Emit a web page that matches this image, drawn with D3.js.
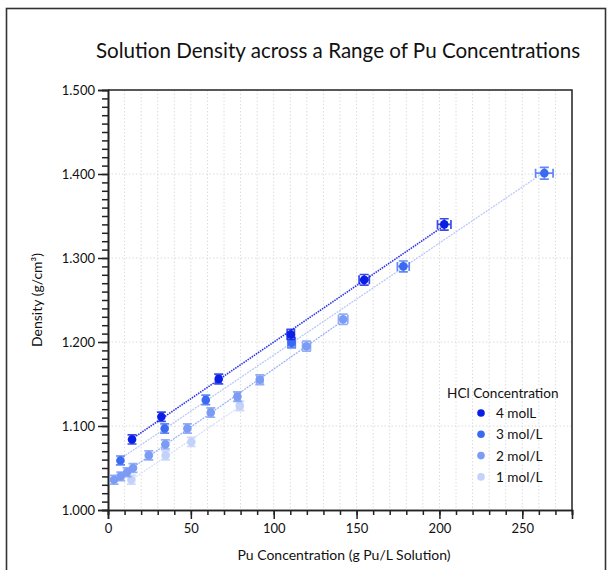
<!DOCTYPE html>
<html>
<head>
<meta charset="utf-8">
<script src="https://cdn.jsdelivr.net/npm/d3@7"></script>
<style>
  html, body { margin: 0; padding: 0; background: #fff; }
  svg text { font-family: "Lato", "Open Sans", sans-serif; fill: #111; }
</style>
</head>
<body>
<svg id="chart" width="611" height="570"></svg>
<script>
// Pu concentration (g Pu/L) and measured density (g/cm³) per HCl molarity
const conc4 = [14.5, 32.2, 66.8, 110.3, 154.6, 202.9];
const dens4 = [1.084, 1.111, 1.156, 1.209, 1.274, 1.340];

const conc3 = [7.5, 34.2, 59.0, 110.8, 178.2, 263.3];
const dens3 = [1.059, 1.097, 1.131, 1.199, 1.290, 1.401];

const conc2 = [3.6, 7.7, 11.5, 15.1, 24.6, 34.6, 47.9, 62.0, 78.1, 91.6, 119.8, 141.9];
const dens2 = [1.036, 1.040, 1.045, 1.050, 1.065, 1.078, 1.097, 1.116, 1.135, 1.155, 1.195, 1.227];

const conc1 = [14.1, 34.8, 50.3, 79.5];
const dens1 = [1.036, 1.065, 1.081, 1.124];

const seriesNames = ["4 molL", "3 mol/L", "2 mol/L", "1 mol/L"];
const seriesColors = ["#0a1ee6", "#3b6af2", "#7b9bf5", "#c3d2fb"];
const lineColors = ["#2a34e8", "#b4c6fb", "#96aef6", "#d4defc"];

const xTicks = [0, 50, 100, 150, 200, 250];
const yTicks = [1.0, 1.1, 1.2, 1.3, 1.4, 1.5];

// relative uncertainties used for the error bars
const xErrFrac = 0.02;
const yErrFrac = 0.005;

const series = [
  { name: seriesNames[0], xs: conc4, ys: dens4, color: seriesColors[0], line: lineColors[0] },
  { name: seriesNames[1], xs: conc3, ys: dens3, color: seriesColors[1], line: lineColors[1] },
  { name: seriesNames[2], xs: conc2, ys: dens2, color: seriesColors[2], line: lineColors[2] },
  { name: seriesNames[3], xs: conc1, ys: dens1, color: seriesColors[3], line: lineColors[3] }
];

const svg = d3.select("#chart");

// outer frame
svg.append("rect")
  .attr("x", 6.5).attr("y", 8.5).attr("width", 599).attr("height", 580)
  .attr("fill", "none").attr("stroke", "#333").attr("stroke-width", 1.6);

const plot = { left: 108, right: 572, top: 90, bottom: 510 };

const x = d3.scaleLinear().domain([0, 280]).range([plot.left, plot.right]);
const y = d3.scaleLinear().domain([1.0, 1.5]).range([plot.bottom, plot.top]);

// grid
const grid = svg.append("g");
grid.selectAll("line.vg")
  .data(d3.range(10, 280, 10))
  .join("line")
  .attr("x1", d => x(d)).attr("x2", d => x(d))
  .attr("y1", plot.top).attr("y2", plot.bottom)
  .attr("stroke", "#dcdcdc").attr("stroke-width", 1)
  .attr("stroke-dasharray", "1.5,2");
grid.selectAll("line.hg")
  .data([1.1, 1.2, 1.3, 1.4])
  .join("line")
  .attr("x1", plot.left).attr("x2", plot.right)
  .attr("y1", d => y(d)).attr("y2", d => y(d))
  .attr("stroke", "#dcdcdc").attr("stroke-width", 1)
  .attr("stroke-dasharray", "1.5,2");

// top and right border of the plot area
svg.append("path")
  .attr("d", `M${plot.left},${plot.top}H${plot.right}V${plot.bottom}`)
  .attr("fill", "none").attr("stroke", "#222").attr("stroke-width", 1.5);

// x axis: minor ticks every 10, labelled every 50
const xMinor = d3.axisBottom(x).tickValues(d3.range(0, 290, 10)).tickSize(5).tickFormat("");
const xMajor = d3.axisBottom(x).tickValues(xTicks).tickSize(9).tickPadding(5).tickFormat(d3.format("d"));
const gxm = svg.append("g").attr("transform", `translate(0,${plot.bottom})`).call(xMinor);
const gx = svg.append("g").attr("transform", `translate(0,${plot.bottom})`).call(xMajor);
[gxm, gx].forEach(g => {
  g.select(".domain").attr("stroke", "#222").attr("stroke-width", 1.6);
  g.selectAll(".tick line").attr("stroke", "#222").attr("stroke-width", 1.5);
});
gx.selectAll(".tick text").attr("font-size", 13).attr("font-family", "Lato, sans-serif").attr("fill", "#111");

// y axis: minor ticks every 0.01, labelled every 0.1
const yMinor = d3.axisLeft(y).tickValues(d3.range(0, 51).map(i => 1 + i * 0.01)).tickSize(6).tickFormat("");
const yMajor = d3.axisLeft(y).tickValues(yTicks).tickSize(10).tickPadding(3).tickFormat(d3.format(".3f"));
const gym = svg.append("g").attr("transform", `translate(${plot.left},0)`).call(yMinor);
const gy = svg.append("g").attr("transform", `translate(${plot.left},0)`).call(yMajor);
[gym, gy].forEach(g => {
  g.select(".domain").attr("stroke", "#222").attr("stroke-width", 1.6);
  g.selectAll(".tick line").attr("stroke", "#222").attr("stroke-width", 1.5);
});
gy.selectAll(".tick text").attr("font-size", 13).attr("font-family", "Lato, sans-serif").attr("fill", "#111");

// least-squares trend line per series, drawn over its data range
function fit(xs, ys) {
  const mx = d3.mean(xs), my = d3.mean(ys);
  let sxy = 0, sxx = 0;
  xs.forEach((v, i) => { sxy += (v - mx) * (ys[i] - my); sxx += (v - mx) * (v - mx); });
  const m = sxy / sxx;
  return { m, b: my - m * mx };
}
const lineGen = d3.line().x(d => x(d[0])).y(d => y(d[1]));
const trends = svg.append("g");
series.slice().reverse().forEach(s => {
  const f = fit(s.xs, s.ys);
  const x0 = d3.min(s.xs), x1 = d3.max(s.xs);
  trends.append("path")
    .attr("d", lineGen([[x0, f.m * x0 + f.b], [x1, f.m * x1 + f.b]]))
    .attr("fill", "none")
    .attr("stroke", s.line)
    .attr("stroke-width", s.name === seriesNames[0] ? 1.6 : 1.2)
    .attr("stroke-dasharray", s.name === seriesNames[0] ? "1.5,1" : "2,1");
});

// error bars and markers, faintest series first
const marks = svg.append("g");
const cap = 4.5;
series.slice().reverse().forEach(s => {
  const g = marks.append("g");
  const pts = s.xs.map((v, i) => ({ cx: v, cy: s.ys[i] }));
  const eb = g.selectAll("g.eb").data(pts).join("g")
    .attr("stroke", s.color).attr("stroke-width", 1.7).attr("fill", "none")
    .attr("stroke-opacity", 0.8);
  eb.each(function(d) {
    const e = d3.select(this);
    const xl = x(d.cx * (1 - xErrFrac)), xr = x(d.cx * (1 + xErrFrac));
    const yt = y(d.cy * (1 + yErrFrac)), yb = y(d.cy * (1 - yErrFrac));
    const px = x(d.cx), py = y(d.cy);
    e.append("path").attr("d",
      `M${px},${yt}V${yb}` +
      `M${px - cap},${yt}H${px + cap}M${px - cap},${yb}H${px + cap}` +
      `M${xl},${py}H${xr}` +
      `M${xl},${py - cap}V${py + cap}M${xr},${py - cap}V${py + cap}`);
  });
  g.selectAll("circle").data(pts).join("circle")
    .attr("cx", d => x(d.cx)).attr("cy", d => y(d.cy))
    .attr("r", 4.3).attr("fill", s.color);
});

// legend
const lg = svg.append("g");
lg.append("text").attr("x", 447).attr("y", 398)
  .attr("font-size", 13.6).text("HCl Concentration");
series.forEach((s, i) => {
  const yy = 413 + i * 21.3;
  lg.append("circle").attr("cx", 481).attr("cy", yy).attr("r", 3.8).attr("fill", s.color);
  lg.append("text").attr("x", 496).attr("y", yy + 5).attr("font-size", 13.6).text(s.name);
});

// titles
svg.append("text").attr("x", 338).attr("y", 58).attr("text-anchor", "middle")
  .attr("font-size", 20.6).text("Solution Density across a Range of Pu Concentrations");
svg.append("text").attr("x", 344).attr("y", 560).attr("text-anchor", "middle")
  .attr("font-size", 14).text("Pu Concentration (g Pu/L Solution)");
svg.append("text").attr("transform", "translate(42,300) rotate(-90)")
  .attr("text-anchor", "middle").attr("font-size", 14).text("Density (g/cm³)");
</script>
</body>
</html>
